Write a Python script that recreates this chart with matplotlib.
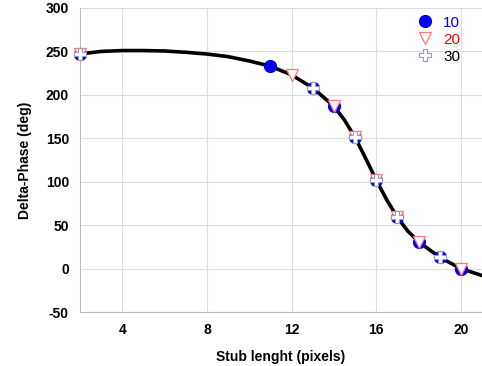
import matplotlib.pyplot as plt

# * Datos
curve_x = [2, 3, 4, 5, 6, 7, 8, 9, 10, 11, 12, 13, 14, 14.5, 15, 15.5, 16, 16.5, 17, 17.5, 18, 19, 20, 21]
curve_y = [247, 250, 251, 251, 250.5, 249, 247, 244, 239, 233, 223, 208, 187, 171, 151, 127, 102, 79, 59, 43, 31, 13, 0, -8]

x10 = [2, 11, 13, 14, 15, 16, 17, 18, 19, 20]
y10 = [247, 233, 208, 187, 151, 102, 59, 31, 13, 0]
x20 = [2, 12, 14, 15, 16, 17, 18, 20]
y20 = [247, 223, 187, 151, 102, 59, 31, 0]
x30 = [2, 13, 15, 16, 17, 19]
y30 = [247, 208, 151, 102, 59, 13]

plt.rcParams['font.family'] = ['Liberation Sans', 'DejaVu Sans']
plt.rcParams['axes.unicode_minus'] = False

fig = plt.figure(figsize=(4.82, 3.66), dpi=100)
ax = fig.add_axes([80 / 482, 1 - 312 / 366, 1 - 80 / 482, 304 / 366])

ax.plot(curve_x, curve_y, color='black', lw=2.6, zorder=3)
ax.plot(x10, y10, 'o', color='#0000ee', ms=8.5, ls='none', label='10', zorder=4, clip_on=False)
ax.plot(x20, y20, 'v', mfc='white', mec='#ff7777', mew=0.9, ms=8, ls='none', label='20', zorder=5, clip_on=False)
ax.plot(x30, y30, 'P', mfc='white', mec='#9999bb', mew=0.8, ms=8.5, ls='none', label='30', zorder=6, clip_on=False)

ax.set_xlim(2, 21)
ax.set_ylim(-50, 300)
ax.set_xticks([4, 8, 12, 16, 20])
ax.set_yticks(range(-50, 301, 50))
ax.grid(True, color='#dddddd', lw=0.8)
ax.set_axisbelow(True)
for s in ['top', 'right']:
    ax.spines[s].set_visible(False)
for s in ['left', 'bottom']:
    ax.spines[s].set_color('#bbbbbb')
ax.tick_params(length=0, labelsize=10, pad=8)
for lab in ax.get_xticklabels() + ax.get_yticklabels():
    lab.set_fontweight('bold')

ax.set_xlabel('Stub lenght (pixels)', fontsize=10, fontweight='bold', labelpad=9)
ax.set_ylabel('Delta-Phase (deg)', fontsize=10, fontweight='bold', labelpad=10)

leg = ax.legend(loc='upper right', bbox_to_anchor=(0.98, 1.02), frameon=False,
                fontsize=11, handletextpad=0.6, labelspacing=0.2, handlelength=1.2)
for txt, c in zip(leg.get_texts(), ['#0000ee', '#ee0000', 'black']):
    txt.set_color(c)

fig.savefig('out.png', dpi=100)
